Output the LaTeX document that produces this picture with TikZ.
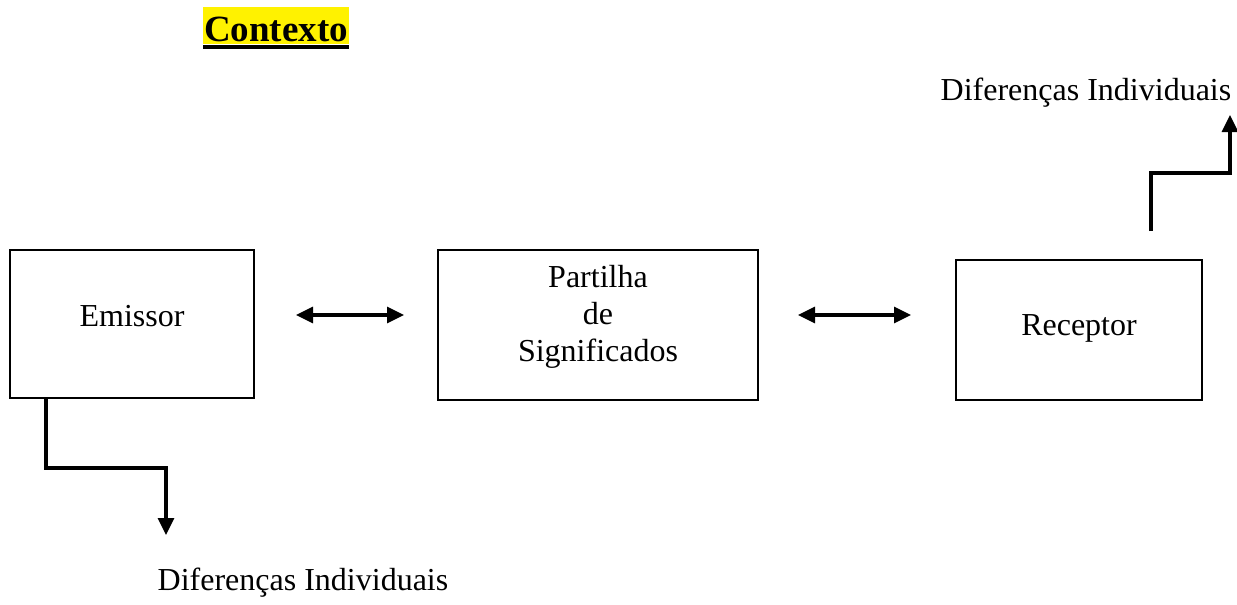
\documentclass[tikz,border=0pt]{standalone}
\usepackage{fontspec}
\setmainfont{Liberation Serif}
\usetikzlibrary{arrows.meta}
\begin{document}
\begin{tikzpicture}[x=1pt,y=-1pt,
  box/.style={draw,line width=2pt,inner sep=0pt},
  lbl/.style={font=\fontsize{32}{38}\selectfont,inner sep=0pt},
  arr/.style={line width=3.2pt,-{Triangle[length=17pt,width=16pt]}},
  darr/.style={line width=3.2pt,{Triangle[length=17pt,width=16pt]}-{Triangle[length=17pt,width=16pt]}}]
\useasboundingbox (0,0) rectangle (1237,605);
% title
\fill[yellow] (203,7) rectangle (349,44);
\node[font=\fontsize{37}{42}\selectfont\bfseries,inner sep=0pt] (title) at (276,29) {Contexto};
\fill (203,45) rectangle (349,49);
% boxes
\node[box,minimum width=244pt,minimum height=148pt] (emissor) at (132,324) {};
\node[lbl] (emt) at (132,316) {Emissor};
\node[box,minimum width=320pt,minimum height=150pt] (partilha) at (598,325) {};
\node[lbl,align=center] (pt) at (598,317) {Partilha\\[-1pt]de\\[-1pt]Significados};
\node[box,minimum width=246pt,minimum height=140pt] (receptor) at (1079,330) {};
\node[lbl] (rt) at (1079,328) {Receptor};
% double arrows
\draw[darr] ([xshift=41pt]emissor.east |- 0,315) -- ([xshift=-33pt]partilha.west |- 0,315);
\draw[darr] ([xshift=39pt]partilha.east |- 0,315) -- ([xshift=-44pt]receptor.west |- 0,315);
% labels
\node[lbl] (d1) at (1086,93) {Diferenças Individuais};
\node[lbl] (d2) at (303,583) {Diferenças Individuais};
% elbow arrows
\coordinate (e1) at (46,399);
\coordinate (e2) at (166,535);
\draw[arr,line join=miter] (e1) -- (46,468) -- (166,468) -- (e2);
\coordinate (r1) at (1151,231);
\coordinate (r2) at (1230,115);
\draw[arr,line join=miter] (r1) -- (1151,173) -- (1230,173) -- (r2);
\end{tikzpicture}
\end{document}
